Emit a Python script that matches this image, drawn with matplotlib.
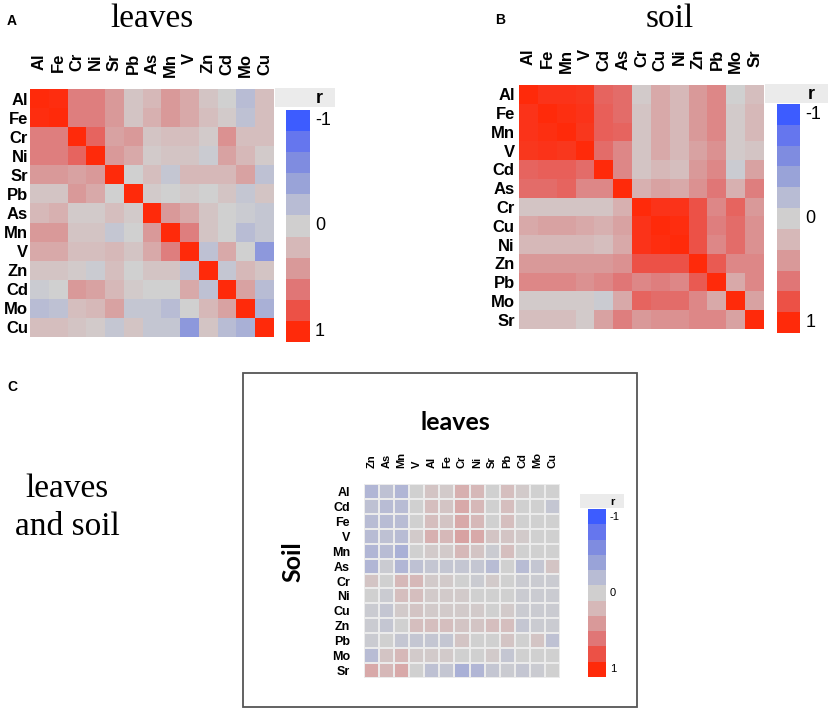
import numpy as np
import matplotlib
matplotlib.use("Agg")
import matplotlib.pyplot as plt
from matplotlib.colors import LinearSegmentedColormap
from matplotlib.patches import Rectangle

plt.rcParams['font.family'] = ['Liberation Sans', 'DejaVu Sans']

# --- data -------------------------------------------------------------
leaf_elems = ['Al', 'Fe', 'Cr', 'Ni', 'Sr', 'Pb', 'As', 'Mn', 'V', 'Zn', 'Cd', 'Mo', 'Cu']
leaf_r = [
    [1.00, 0.98, 0.55, 0.55, 0.40, 0.10, 0.20, 0.40, 0.30, 0.10, 0.00, -0.20, 0.15],
    [0.98, 1.00, 0.55, 0.55, 0.40, 0.10, 0.25, 0.40, 0.30, 0.15, 0.05, -0.15, 0.15],
    [0.55, 0.55, 1.00, 0.70, 0.35, 0.40, 0.10, 0.15, 0.15, 0.05, 0.45, 0.15, 0.15],
    [0.55, 0.55, 0.70, 1.00, 0.40, 0.30, 0.05, 0.10, 0.10, -0.05, 0.35, 0.20, 0.05],
    [0.40, 0.40, 0.35, 0.40, 1.00, 0.00, 0.15, -0.10, 0.20, 0.20, 0.20, 0.35, -0.15],
    [0.10, 0.10, 0.40, 0.30, 0.00, 1.00, 0.05, 0.00, 0.05, 0.00, 0.10, -0.10, 0.10],
    [0.20, 0.25, 0.05, 0.05, 0.15, 0.05, 1.00, 0.40, 0.30, 0.10, 0.00, -0.05, -0.10],
    [0.40, 0.40, 0.10, 0.10, -0.10, 0.00, 0.40, 1.00, 0.55, 0.10, 0.00, -0.20, -0.10],
    [0.30, 0.30, 0.15, 0.15, 0.20, 0.10, 0.30, 0.55, 1.00, -0.15, 0.30, 0.00, -0.50],
    [0.10, 0.10, 0.05, -0.05, 0.15, 0.00, 0.10, 0.10, -0.15, 1.00, -0.10, 0.20, 0.10],
    [-0.05, 0.00, 0.40, 0.35, 0.20, 0.05, 0.00, 0.00, 0.30, -0.15, 1.00, 0.35, -0.20],
    [-0.20, -0.15, 0.15, 0.20, 0.35, -0.10, -0.10, -0.20, 0.00, 0.20, 0.35, 1.00, -0.30],
    [0.15, 0.15, 0.10, 0.05, -0.10, 0.10, -0.10, -0.10, -0.50, 0.10, -0.20, -0.30, 1.00],
]

soil_elems = ['Al', 'Fe', 'Mn', 'V', 'Cd', 'As', 'Cr', 'Cu', 'Ni', 'Zn', 'Pb', 'Mo', 'Sr']
soil_r = [
    [1.00, 0.95, 0.95, 0.93, 0.70, 0.65, 0.05, 0.30, 0.20, 0.40, 0.50, 0.00, 0.15],
    [0.95, 1.00, 0.97, 0.95, 0.72, 0.65, 0.10, 0.30, 0.20, 0.40, 0.50, 0.05, 0.20],
    [0.95, 0.97, 1.00, 0.93, 0.72, 0.70, 0.10, 0.30, 0.20, 0.40, 0.50, 0.05, 0.20],
    [0.93, 0.95, 0.93, 1.00, 0.65, 0.50, 0.10, 0.30, 0.20, 0.35, 0.45, 0.05, 0.10],
    [0.70, 0.72, 0.72, 0.65, 1.00, 0.50, 0.10, 0.20, 0.15, 0.40, 0.50, -0.05, 0.35],
    [0.65, 0.65, 0.70, 0.50, 0.50, 1.00, 0.25, 0.35, 0.30, 0.45, 0.60, 0.25, 0.55],
    [0.10, 0.10, 0.10, 0.10, 0.10, 0.25, 1.00, 0.95, 0.95, 0.80, 0.50, 0.70, 0.40],
    [0.30, 0.35, 0.35, 0.30, 0.25, 0.35, 0.95, 1.00, 0.98, 0.80, 0.55, 0.65, 0.45],
    [0.20, 0.20, 0.20, 0.20, 0.15, 0.30, 0.95, 0.98, 1.00, 0.80, 0.50, 0.65, 0.45],
    [0.40, 0.40, 0.40, 0.40, 0.40, 0.45, 0.80, 0.80, 0.80, 1.00, 0.75, 0.50, 0.50],
    [0.50, 0.50, 0.50, 0.45, 0.50, 0.60, 0.50, 0.55, 0.50, 0.75, 1.00, 0.30, 0.50],
    [0.05, 0.05, 0.05, 0.05, -0.05, 0.30, 0.70, 0.65, 0.65, 0.50, 0.30, 1.00, 0.35],
    [0.15, 0.15, 0.15, 0.05, 0.35, 0.55, 0.40, 0.45, 0.45, 0.50, 0.50, 0.35, 1.00],
]

cross_rows = ['Al', 'Cd', 'Fe', 'V', 'Mn', 'As', 'Cr', 'Ni', 'Cu', 'Zn', 'Pb', 'Mo', 'Sr']
cross_cols = ['Zn', 'As', 'Mn', 'V', 'Al', 'Fe', 'Cr', 'Ni', 'Sr', 'Pb', 'Cd', 'Mo', 'Cu']
cross_r = [
    [-0.25, -0.15, -0.25, 0.00, 0.10, 0.05, 0.25, 0.20, 0.00, 0.15, 0.05, 0.00, 0.00],
    [-0.15, -0.20, -0.20, 0.00, 0.15, 0.10, 0.30, 0.20, 0.00, 0.15, 0.00, 0.00, -0.10],
    [-0.20, -0.20, -0.20, 0.00, 0.15, 0.10, 0.30, 0.20, 0.00, 0.15, 0.00, 0.00, 0.00],
    [-0.20, -0.15, -0.20, 0.05, 0.25, 0.20, 0.35, 0.30, 0.10, 0.10, 0.05, 0.00, 0.00],
    [-0.25, -0.20, -0.30, 0.00, 0.05, 0.05, 0.20, 0.10, -0.05, 0.15, 0.00, 0.00, 0.00],
    [-0.25, -0.05, -0.25, -0.15, -0.10, -0.10, -0.10, -0.10, -0.20, 0.00, -0.20, -0.10, 0.10],
    [0.10, 0.00, 0.20, 0.20, 0.05, 0.05, 0.00, -0.05, 0.05, 0.00, -0.05, -0.05, -0.05],
    [0.00, -0.05, 0.15, 0.15, 0.05, 0.05, 0.05, 0.00, 0.00, 0.00, -0.05, -0.05, -0.05],
    [-0.05, -0.10, 0.05, 0.10, 0.05, 0.05, 0.05, 0.05, 0.00, 0.05, -0.05, -0.05, -0.05],
    [-0.05, -0.10, 0.00, 0.15, 0.15, 0.15, 0.10, 0.10, 0.15, 0.15, -0.10, -0.05, -0.05],
    [-0.05, 0.00, -0.10, -0.10, -0.10, -0.10, 0.10, 0.00, 0.00, 0.10, 0.00, 0.10, -0.15],
    [-0.20, 0.10, 0.20, 0.05, 0.05, 0.05, 0.00, 0.00, 0.05, -0.10, 0.00, 0.00, 0.00],
    [0.30, 0.20, 0.30, 0.00, -0.15, -0.10, -0.30, -0.25, -0.10, -0.05, -0.10, -0.05, 0.00],
]

legend_levels = [-1, -0.8, -0.6, -0.4, -0.2, 0, 0.2, 0.4, 0.6, 0.8, 1]
legend_ticks = ['-1', '0', '1']

# colour ramp blue - grey - red
ramp = ['#3d5cff', '#6677ee', '#7f8ce0', '#9aa4d8', '#b8bcd4', '#d0d0d0',
        '#d6b8b8', '#d99a9a', '#e07676', '#ec5248', '#ff2a0a']
cmap = LinearSegmentedColormap.from_list('r_map', ramp)

W, H = 829, 712
fig = plt.figure(figsize=(W / 100, H / 100), dpi=100)


def box(x0, y0, x1, y1):
    # pixel box (from top-left) -> figure fraction
    return [x0 / W, 1 - y1 / H, (x1 - x0) / W, (y1 - y0) / H]


def ftext(x, y, s, **kw):
    fig.text(x / W, 1 - y / H, s, **kw)


def heatmap(pos, mat, rows, cols, fs_row, fs_col, pad, col_y, col_va, lw):
    ax = fig.add_axes(box(*pos))
    ax.pcolormesh(np.arange(len(cols) + 1), np.arange(len(rows) + 1), np.array(mat),
                  cmap=cmap, vmin=-1, vmax=1, edgecolors='#ebebeb', linewidth=lw)
    ax.set_xlim(0, len(cols))
    ax.set_ylim(len(rows), 0)
    ax.set_yticks(np.arange(len(rows)) + 0.5, rows, fontsize=fs_row, fontweight='bold')
    ax.set_xticks([])
    ax.tick_params(length=0, pad=pad)
    for s in ax.spines.values():
        s.set_visible(False)
    for j, c in enumerate(cols):
        ax.text(j + 0.5, col_y, c, transform=ax.get_xaxis_transform(), rotation=90,
                ha='center', va=col_va, fontsize=fs_col, fontweight='bold')
    return ax


def legend_bar(head, pos, fs, tick_dx):
    hx0, hy0, hx1, hy1 = head
    fig.add_artist(Rectangle((hx0 / W, 1 - hy1 / H), (hx1 - hx0) / W, (hy1 - hy0) / H,
                             transform=fig.transFigure, color='#ebebeb', lw=0))
    ftext(hx1 - (hx1 - hx0) * 0.27, (hy0 + hy1) / 2 + 1, 'r', ha='center', va='center',
          fontsize=fs, fontweight='bold')
    ax = fig.add_axes(box(*pos))
    ax.imshow(np.array(legend_levels).reshape(-1, 1), cmap=cmap, vmin=-1, vmax=1,
              aspect='auto', interpolation='nearest')
    ax.axis('off')
    n = len(legend_levels)
    for lab, i in zip(legend_ticks, [0, n // 2, n - 1]):
        ax.text(1 + tick_dx, 1 - (i + 0.5) / n, lab, transform=ax.transAxes,
                ha='left', va='center', fontsize=fs)


serif = ['Liberation Serif', 'DejaVu Serif']

# panel A
ftext(12, 21, 'A', ha='center', va='center', fontsize=10, fontweight='bold')
ftext(152, 27, 'leaves', ha='center', va='baseline', fontsize=24, family=serif)
heatmap((30, 89, 274, 337), leaf_r, leaf_elems, leaf_elems, 12, 12, 1.5, 1.145, 'top', 0)
legend_bar((275, 88, 335, 107), (286, 110, 310, 342), 13, 0.2)

# panel B
ftext(500, 20, 'B', ha='center', va='center', fontsize=10, fontweight='bold')
ftext(670, 27, 'soil', ha='center', va='baseline', fontsize=24, family=serif)
heatmap((519, 85, 764, 329), soil_r, soil_elems, soil_elems, 12, 12, 3, 1.148, 'top', 0)
legend_bar((765, 84, 829, 103), (777, 104, 800, 333), 13, 0.25)

# panel C
ftext(12, 387, 'C', ha='center', va='center', fontsize=10, fontweight='bold')
ftext(67, 497, 'leaves', ha='center', va='baseline', fontsize=24, family=serif)
ftext(67, 535, 'and soil', ha='center', va='baseline', fontsize=24, family=serif)
fig.add_artist(Rectangle((243 / W, 1 - 707 / H), (637 - 243) / W, (707 - 373) / H,
                         transform=fig.transFigure, fill=False, edgecolor='#555555', lw=1.3))
ftext(455, 430, 'leaves', ha='center', va='baseline', fontsize=18, fontweight='bold',
      family=['Lato', 'DejaVu Sans'])
ftext(293, 562, 'Soil', ha='center', va='center', rotation=90, fontsize=18,
      fontweight='bold', family=['Lato', 'DejaVu Sans'])
heatmap((364, 484, 560, 678), cross_r, cross_rows, cross_cols, 9, 8, 10, 1.082, 'bottom', 0.3)
legend_bar((580, 494, 624, 508), (588, 509, 606, 677), 8, 0.2)

fig.savefig('out.png', dpi=100)
